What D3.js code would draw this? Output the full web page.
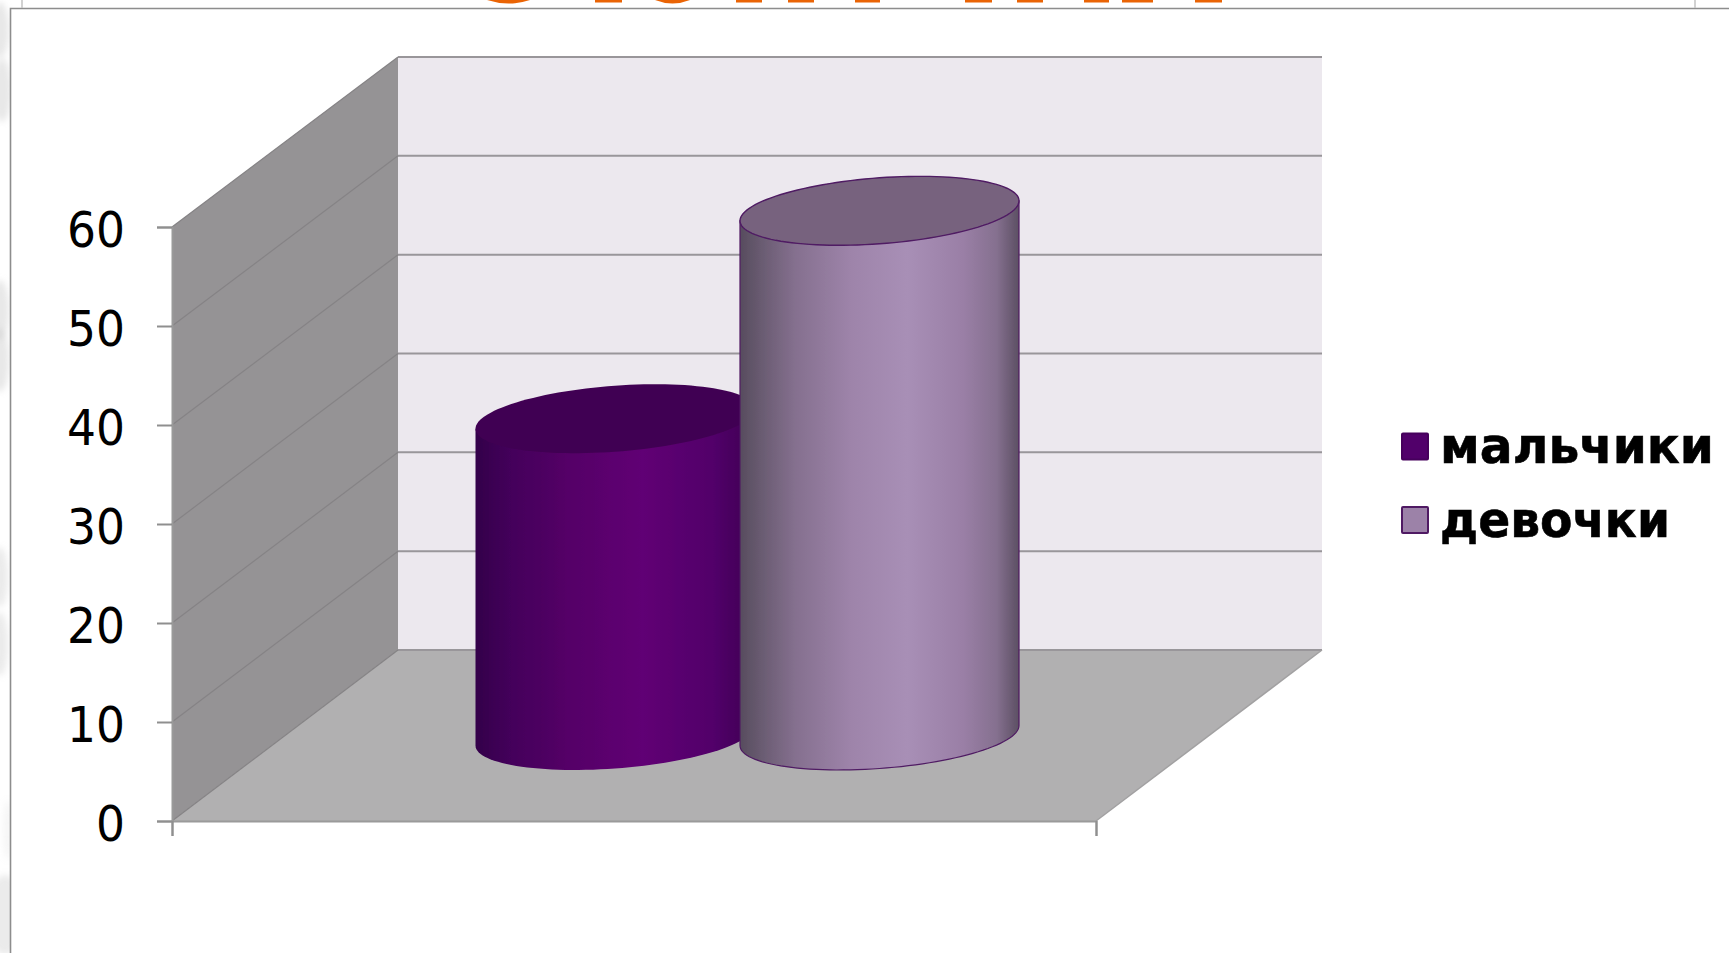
<!DOCTYPE html>
<html><head><meta charset="utf-8">
<script src="https://cdn.jsdelivr.net/npm/d3@7/dist/d3.min.js"></script>
<style>html,body{margin:0;padding:0;background:#fff;overflow:hidden}svg{display:block}</style>
</head><body><svg id="c" width="1729" height="953"></svg>
<script>
const seriesNames = ["мальчики", "девочки"];
const seriesValues = [32, 53];
const tickValues = [0, 10, 20, 30, 40, 50, 60];
const sideColors = [
  [[0,"#33004a"],[0.12,"#43005a"],[0.35,"#560068"],[0.6,"#600074"],[0.85,"#52006a"],[1,"#3e0052"]],
  [[0,"#574c5e"],[0.08,"#6a5c72"],[0.2,"#85708f"],[0.4,"#9e84aa"],[0.6,"#a88fb6"],[0.8,"#9a7fa6"],[0.92,"#85708f"],[1,"#5c4f63"]]
];
const topColors = ["#410052", "#77627e"];
const strokeColors = ["none", "#4f1a63"];
const legendFill = ["#51006a", "#9c82a8"];
const legendStroke = ["#46005c", "#4f1a63"];
const legendWidths = [274, 230];
const titleStubs = [[595,622],[736,762],[788,814],[855,880],[965,992],[1017,1043],[1084,1109],[1122,1153],[1195,1222]];
const titleArcs = [[487,530],[655,690]];
const smudges = [[0,30,9,28,.35],[2,90,9,32,.35],[0,310,9,30,.35],[0,360,9,32,.35],[0,577,8,30,.3],[0,644,8,32,.3],[8,830,5,30,.15],[5,915,18,40,.3]];

const svg = d3.select("#c");
const defs = svg.append("defs");
defs.append("filter").attr("id","blur").attr("x","-100%").attr("y","-100%").attr("width","300%").attr("height","300%")
  .append("feGaussianBlur").attr("stdDeviation",3);
defs.append("filter").attr("id","soft").append("feGaussianBlur").attr("stdDeviation",0.45);

// page remnants
svg.append("g").attr("filter","url(#blur)").selectAll("ellipse").data(smudges).join("ellipse")
  .attr("cx",d=>d[0]).attr("cy",d=>d[1]).attr("rx",d=>d[2]).attr("ry",d=>d[3]).attr("fill","#bdbdbd").attr("opacity",d=>d[4]);
svg.append("rect").attr("x",11).attr("y",9).attr("width",1718).attr("height",944).attr("fill","#fff");
svg.append("path").attr("d","M10.5 953V8.5H1729").attr("fill","none").attr("stroke","#8d8d8d").attr("stroke-width",1.6);
svg.append("path").attr("d","M22 0V8M1695 0V8").attr("stroke","#c4c4c4").attr("stroke-width",1.5);
svg.append("g").selectAll("rect").data(titleStubs).join("rect")
  .attr("x",d=>d[0]).attr("y",0).attr("width",d=>d[1]-d[0]).attr("height",2.5).attr("fill","#ea6405");
svg.append("g").selectAll("path").data(titleArcs).join("path")
  .attr("d",d=>`M${d[0]} 0Q${(d[0]+d[1])/2} 7 ${d[1]} 0Z`).attr("fill","#ea6405");

// scales
const yFront = d3.scaleLinear().domain([0,60]).range([821,227]);
const yBack  = d3.scaleLinear().domain([0,60]).range([650,57]);
const yBar   = d3.scaleLinear().domain([0,60]).range([735.5,141.5]);
const xFront = d3.scaleLinear().domain([0,1]).range([172,1096]);
const xBack  = d3.scaleLinear().domain([0,1]).range([398,1322]);
const xBar   = d3.scalePoint().domain(seriesNames).range([615,879.5]);
const rx = 139.5, tiltK = 10, tiltH = 33;

const line = d3.line();
const g3d = svg.append("g").attr("filter","url(#soft)");
// walls
g3d.append("path").attr("fill","#ece8ee")
  .attr("d",line([[xBack(0),yBack(60)],[xBack(1),yBack(60)],[xBack(1),yBack(0)],[xBack(0),yBack(0)]])+"Z");
g3d.append("path").attr("fill","#959395")
  .attr("d",line([[xFront(0),yFront(60)],[xBack(0),yBack(60)],[xBack(0),yBack(0)],[xFront(0),yFront(0)]])+"Z");
g3d.append("path").attr("fill","#b1b0b1")
  .attr("d",line([[xFront(0),yFront(0)],[xBack(0),yBack(0)],[xBack(1),yBack(0)],[xFront(1),yFront(0)]])+"Z");
// gridlines
g3d.append("g").selectAll("line").data(tickValues).join("line")
  .attr("x1",xBack(0)).attr("x2",xBack(1)).attr("y1",d=>yBack(d)).attr("y2",d=>yBack(d))
  .attr("stroke","#99969a").attr("stroke-width",2);
g3d.append("g").selectAll("line").data(tickValues).join("line")
  .attr("x1",xFront(0)).attr("x2",xBack(0)).attr("y1",d=>yFront(d)).attr("y2",d=>yBack(d))
  .attr("stroke","#858385").attr("stroke-width",1.2);
// floor edges
g3d.append("path").attr("fill","none").attr("stroke","#a2a1a2").attr("stroke-width",1.5)
  .attr("d",line([[xBack(1),yBack(0)],[xFront(1),yFront(0)]]));

// cylinders
const ring = (cx,cy,t)=>[cx+rx*Math.cos(t), cy-(tiltK*Math.cos(t)+tiltH*Math.sin(t))];
seriesNames.forEach((name,i)=>{
  const grad = defs.append("linearGradient").attr("id","side"+i);
  sideColors[i].forEach(s=>grad.append("stop").attr("offset",s[0]).attr("stop-color",s[1]));
  const cx = xBar(name), top = yBar(seriesValues[i]), bot = yBar(0);
  const lower = d3.range(0,61).map(n=>ring(cx,bot,Math.PI+n/60*Math.PI));
  const side = [ring(cx,top,Math.PI),...lower,ring(cx,top,0)];
  const cap = d3.range(0,120).map(n=>ring(cx,top,n/120*2*Math.PI));
  g3d.append("path").attr("d",line(side)+"Z").attr("fill",`url(#side${i})`)
    .attr("stroke",strokeColors[i]).attr("stroke-width",1.2);
  g3d.append("path").attr("d",line(cap)+"Z").attr("fill",topColors[i])
    .attr("stroke",strokeColors[i]).attr("stroke-width",1.4);
});

// axes
const gy = svg.append("g").attr("transform",`translate(${xFront(0)},0)`)
  .call(d3.axisLeft(yFront).tickValues(tickValues).tickSize(15).tickPadding(0));
gy.select(".domain").attr("stroke","#9a9a9a").attr("stroke-width",2);
gy.selectAll(".tick line").attr("stroke","#8f8f8f").attr("stroke-width",2);
gy.selectAll(".tick text").attr("x",0).attr("dy","0.4em")
  .attr("transform","translate(-47,0) scale(.93,1)")
  .attr("font-family","'DejaVu Sans'").attr("font-size",49).attr("fill","#000").attr("text-anchor","end");
const gx = svg.append("g").attr("transform",`translate(0,${yFront(0)})`)
  .call(d3.axisBottom(xFront).tickValues([0,1]).tickSize(15).tickFormat(""));
gx.select(".domain").attr("stroke","#9a9a9a").attr("stroke-width",2);
gx.selectAll(".tick line").attr("stroke","#8f8f8f").attr("stroke-width",2);

// legend
const legY = d3.scalePoint().domain(seriesNames).range([446.5,520]);
const leg = svg.append("g").selectAll("g").data(seriesNames).join("g")
  .attr("transform",d=>`translate(0,${legY(d)})`);
leg.append("rect").attr("x",1402).attr("y",-13).attr("width",26).attr("height",26).attr("rx",1)
  .attr("fill",(d,i)=>legendFill[i]).attr("stroke",(d,i)=>legendStroke[i]).attr("stroke-width",2);
leg.append("text").text(d=>d).attr("x",1440).attr("y",16.5)
  .attr("font-family","'DejaVu Sans'").attr("font-weight","bold").attr("font-size",50).attr("fill","#000")
  .attr("stroke","#000").attr("stroke-width",0.6)
  .attr("textLength",(d,i)=>legendWidths[i]).attr("lengthAdjust","spacingAndGlyphs");
</script></body></html>
